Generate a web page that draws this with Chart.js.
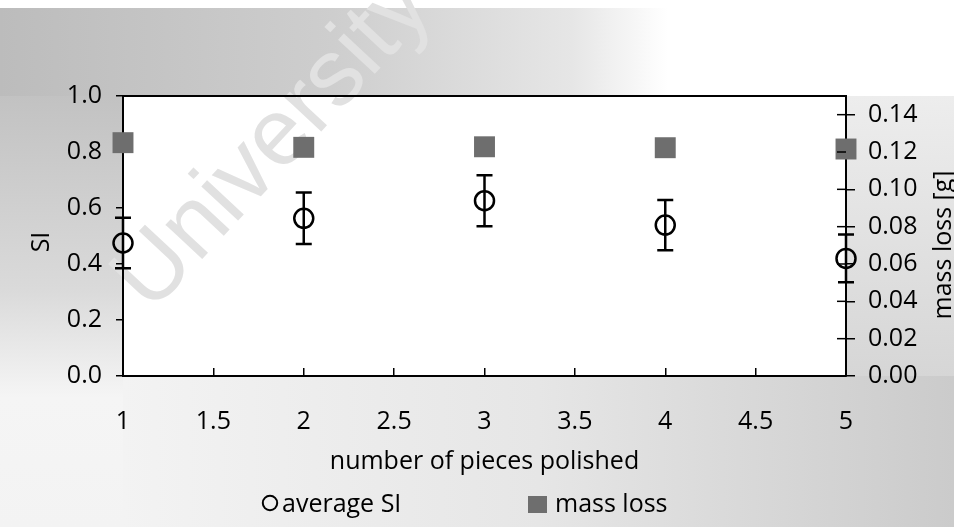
<!DOCTYPE html>
<html>
<head>
<meta charset="utf-8">
<script src="https://cdn.jsdelivr.net/npm/chart.js@4.4.0/dist/chart.umd.min.js"></script>
<style>
  html, body { margin: 0; padding: 0; background: #fff; }
  #wrap { width: 954px; height: 527px; }
</style>
</head>
<body>
<div id="wrap"><canvas id="myChart" width="954" height="527"></canvas></div>
<script>
'use strict';

// values
const pieces = [1, 2, 3, 4, 5];
const averageSI = [0.475, 0.563, 0.626, 0.539, 0.42];
const siError = [0.09, 0.092, 0.091, 0.09, 0.085];
const massLoss = [0.125, 0.1225, 0.1228, 0.1223, 0.1216];

const xTickValues = [1, 1.5, 2, 2.5, 3, 3.5, 4, 4.5, 5];
const siTickValues = [0, 0.2, 0.4, 0.6, 0.8, 1.0];
const massTickValues = [0, 0.02, 0.04, 0.06, 0.08, 0.1, 0.12, 0.14];

const ink = '#000000';
const fontFamily = "'Open Sans', sans-serif";

Chart.defaults.font.family = fontFamily;
Chart.defaults.font.size = 25;
Chart.defaults.color = ink;

// scanned page shading + watermark, drawn under everything
const backdrop = {
    id: 'backdrop',
    beforeDraw(chart) {
        const { ctx, width, height, chartArea: a } = chart;
        ctx.save();
        ctx.fillStyle = '#ffffff';
        ctx.fillRect(0, 0, width, height);

        let g = ctx.createLinearGradient(0, 0, width, 0);
        g.addColorStop(0, '#bcbcbc');
        g.addColorStop(0.35, '#cecece');
        g.addColorStop(0.6, '#e6e6e6');
        g.addColorStop(0.7, '#ffffff');
        g.addColorStop(1, '#ffffff');
        ctx.fillStyle = g;
        ctx.fillRect(0, 8, width, a.top - 7);

        g = ctx.createLinearGradient(0, a.top, 0, height);
        g.addColorStop(0, '#c2c2c2');
        g.addColorStop(0.45, '#dadada');
        g.addColorStop(0.7, '#f5f5f5');
        g.addColorStop(1, '#f3f3f3');
        ctx.fillStyle = g;
        ctx.fillRect(0, a.top, a.left, height - a.top);

        g = ctx.createLinearGradient(a.left, 0, width, 0);
        g.addColorStop(0, '#f3f3f3');
        g.addColorStop(0.5, '#e6e6e6');
        g.addColorStop(1, '#cbcbcb');
        ctx.fillStyle = g;
        ctx.fillRect(a.left, a.bottom, width - a.left, height - a.bottom);

        g = ctx.createLinearGradient(0, a.top, 0, a.bottom);
        g.addColorStop(0, '#ededed');
        g.addColorStop(1, '#d6d6d6');
        ctx.fillStyle = g;
        ctx.fillRect(a.right, a.top, width - a.right, a.bottom - a.top);

        ctx.fillStyle = '#ffffff';
        ctx.fillRect(a.left, a.top, a.right - a.left, a.bottom - a.top);

        ctx.translate(151, 314);
        ctx.rotate(-47 * Math.PI / 180);
        ctx.font = '95px "Liberation Sans"';
        ctx.fillStyle = '#e1e1e1';
        ctx.textBaseline = 'alphabetic';
        ctx.fillText('University of Cape Town', 0, 0);
        ctx.restore();
    }
};

const errorBars = {
    id: 'errorBars',
    afterDatasetsDraw(chart) {
        const { ctx, scales: { x, y } } = chart;
        ctx.save();
        ctx.strokeStyle = ink;
        ctx.lineWidth = 2.5;
        pieces.forEach((p, i) => {
            const px = x.getPixelForValue(p);
            const top = y.getPixelForValue(averageSI[i] + siError[i]);
            const bot = y.getPixelForValue(averageSI[i] - siError[i]);
            ctx.beginPath();
            ctx.moveTo(px, top); ctx.lineTo(px, bot);
            ctx.moveTo(px - 8, top); ctx.lineTo(px + 8, top);
            ctx.moveTo(px - 8, bot); ctx.lineTo(px + 8, bot);
            ctx.stroke();
        });
        ctx.restore();
    }
};

// frame top, inner half of right ticks, vertical titles, legend
const frame = {
    id: 'frame',
    afterDraw(chart) {
        const { ctx, chartArea: a, scales: { y1 } } = chart;
        ctx.save();
        ctx.strokeStyle = ink;
        ctx.lineWidth = 2;
        ctx.beginPath();
        ctx.moveTo(a.left - 1, a.top);
        ctx.lineTo(a.right + 1, a.top);
        ctx.stroke();

        ctx.lineWidth = 1.5;
        massTickValues.forEach(v => {
            const py = y1.getPixelForValue(v);
            ctx.beginPath();
            ctx.moveTo(a.right - 9, py);
            ctx.lineTo(a.right, py);
            ctx.stroke();
        });

        ctx.fillStyle = ink;
        ctx.font = '25px ' + fontFamily;
        ctx.textAlign = 'center';
        ctx.textBaseline = 'middle';
        ctx.save();
        ctx.translate(42, 242);
        ctx.rotate(-Math.PI / 2);
        ctx.fillText('SI', 0, 0);
        ctx.restore();
        ctx.save();
        ctx.translate(944, 245);
        ctx.rotate(-Math.PI / 2);
        ctx.fillText('mass loss [g]', 0, 0);
        ctx.restore();

        const sets = chart.data.datasets;
        ctx.textAlign = 'left';
        ctx.textBaseline = 'alphabetic';
        ctx.lineWidth = 2;
        ctx.beginPath();
        ctx.arc(270, 503, 7.2, 0, Math.PI * 2);
        ctx.stroke();
        ctx.fillText(sets[0].label, 282, 512);
        ctx.fillStyle = sets[1].pointBackgroundColor;
        ctx.fillRect(528, 496, 19, 17);
        ctx.fillStyle = ink;
        ctx.fillText(sets[1].label, 555, 512);
        ctx.restore();
    }
};

new Chart(document.getElementById('myChart'), {
    type: 'scatter',
    data: {
        datasets: [
            {
                label: 'average SI',
                data: pieces.map((p, i) => ({ x: p, y: averageSI[i] })),
                yAxisID: 'y',
                pointStyle: 'circle',
                pointRadius: 9.5,
                pointBorderWidth: 2.5,
                pointBorderColor: ink,
                pointBackgroundColor: 'rgba(0,0,0,0)',
                clip: false
            },
            {
                label: 'mass loss',
                data: pieces.map((p, i) => ({ x: p, y: massLoss[i] })),
                yAxisID: 'y1',
                pointStyle: 'rect',
                pointRadius: 14.8,
                pointBorderWidth: 0,
                pointBackgroundColor: '#6e6e6e',
                clip: false
            }
        ]
    },
    options: {
        responsive: false,
        animation: false,
        events: [],
        layout: { padding: { top: 96, left: 0, right: 0, bottom: 0 } },
        plugins: {
            legend: { display: false },
            tooltip: { enabled: false }
        },
        scales: {
            x: {
                type: 'linear',
                min: 1,
                max: 5,
                afterBuildTicks: s => { s.ticks = xTickValues.map(v => ({ value: v })); },
                afterFit: s => { s.height = 151; },
                ticks: { padding: 39, maxRotation: 0, autoSkip: false, callback: v => String(v) },
                grid: { drawOnChartArea: false, tickLength: -8, color: ink, lineWidth: 1.5 },
                border: { color: ink, width: 2 },
                title: { display: true, text: 'number of pieces polished', padding: { top: 0, bottom: 50 } }
            },
            y: {
                position: 'left',
                min: 0,
                max: 1,
                afterBuildTicks: s => { s.ticks = siTickValues.map(v => ({ value: v })); },
                afterFit: s => { s.width = 123; },
                ticks: { padding: 14, callback: v => v.toFixed(1) },
                grid: { drawOnChartArea: false, tickLength: 7, color: ink, lineWidth: 1.5 },
                border: { color: ink, width: 2 }
            },
            y1: {
                position: 'right',
                min: 0,
                max: 0.15,
                afterBuildTicks: s => { s.ticks = massTickValues.map(v => ({ value: v })); },
                afterFit: s => { s.width = 108; },
                ticks: { padding: 13, callback: v => v.toFixed(2) },
                grid: { drawOnChartArea: false, tickLength: 9, color: ink, lineWidth: 1.5 },
                border: { color: ink, width: 2 }
            }
        }
    },
    plugins: [backdrop, errorBars, frame]
});
</script>
</body>
</html>
